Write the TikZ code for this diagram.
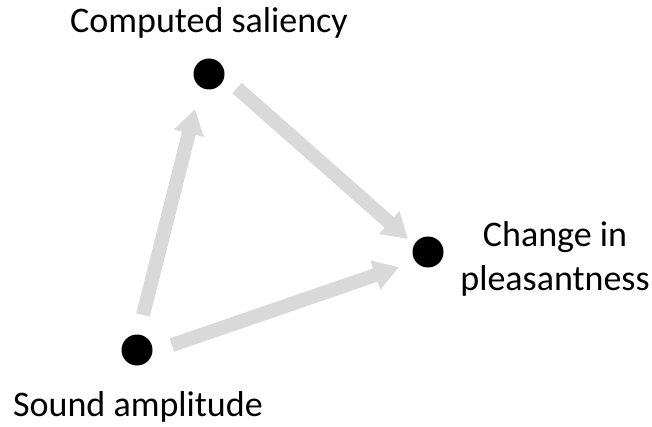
\documentclass[tikz,border=0pt]{standalone}
\usepackage{fontspec}
\setmainfont{Carlito}
\usetikzlibrary{arrows.meta}
\definecolor{arrowgray}{HTML}{D9D9D9}
\begin{document}
\begin{tikzpicture}[x=1pt,y=-1pt,
  dot/.style={circle,fill=black,minimum size=31pt,inner sep=0pt},
  lbl/.style={font=\fontsize{36}{44}\selectfont,align=center,inner sep=0pt},
  bigarrow/.style={draw=arrowgray,line width=14pt,-{Triangle[length=25pt,width=29pt]}}]
\useasboundingbox (0,0) rectangle (652,427);
\node[dot] (cs) at (209,74) {};
\node[dot] (cp) at (428,252) {};
\node[dot] (sa) at (137,350) {};
\node[lbl] (tcs) at (209,23) {Computed saliency};
\node[lbl] (tcp) at (555,259) {Change in\\pleasantness};
\node[lbl] (tsa) at (138,407) {Sound amplitude};
\coordinate (a1s) at (143,315);
\coordinate (a1e) at (195,109);
\coordinate (a2s) at (237,88);
\coordinate (a2e) at (408,239);
\coordinate (a3s) at (172,345);
\coordinate (a3e) at (399,267);
\draw[bigarrow] (a1s) -- (a1e);
\draw[bigarrow] (a2s) -- (a2e);
\draw[bigarrow] (a3s) -- (a3e);
\end{tikzpicture}
\end{document}
